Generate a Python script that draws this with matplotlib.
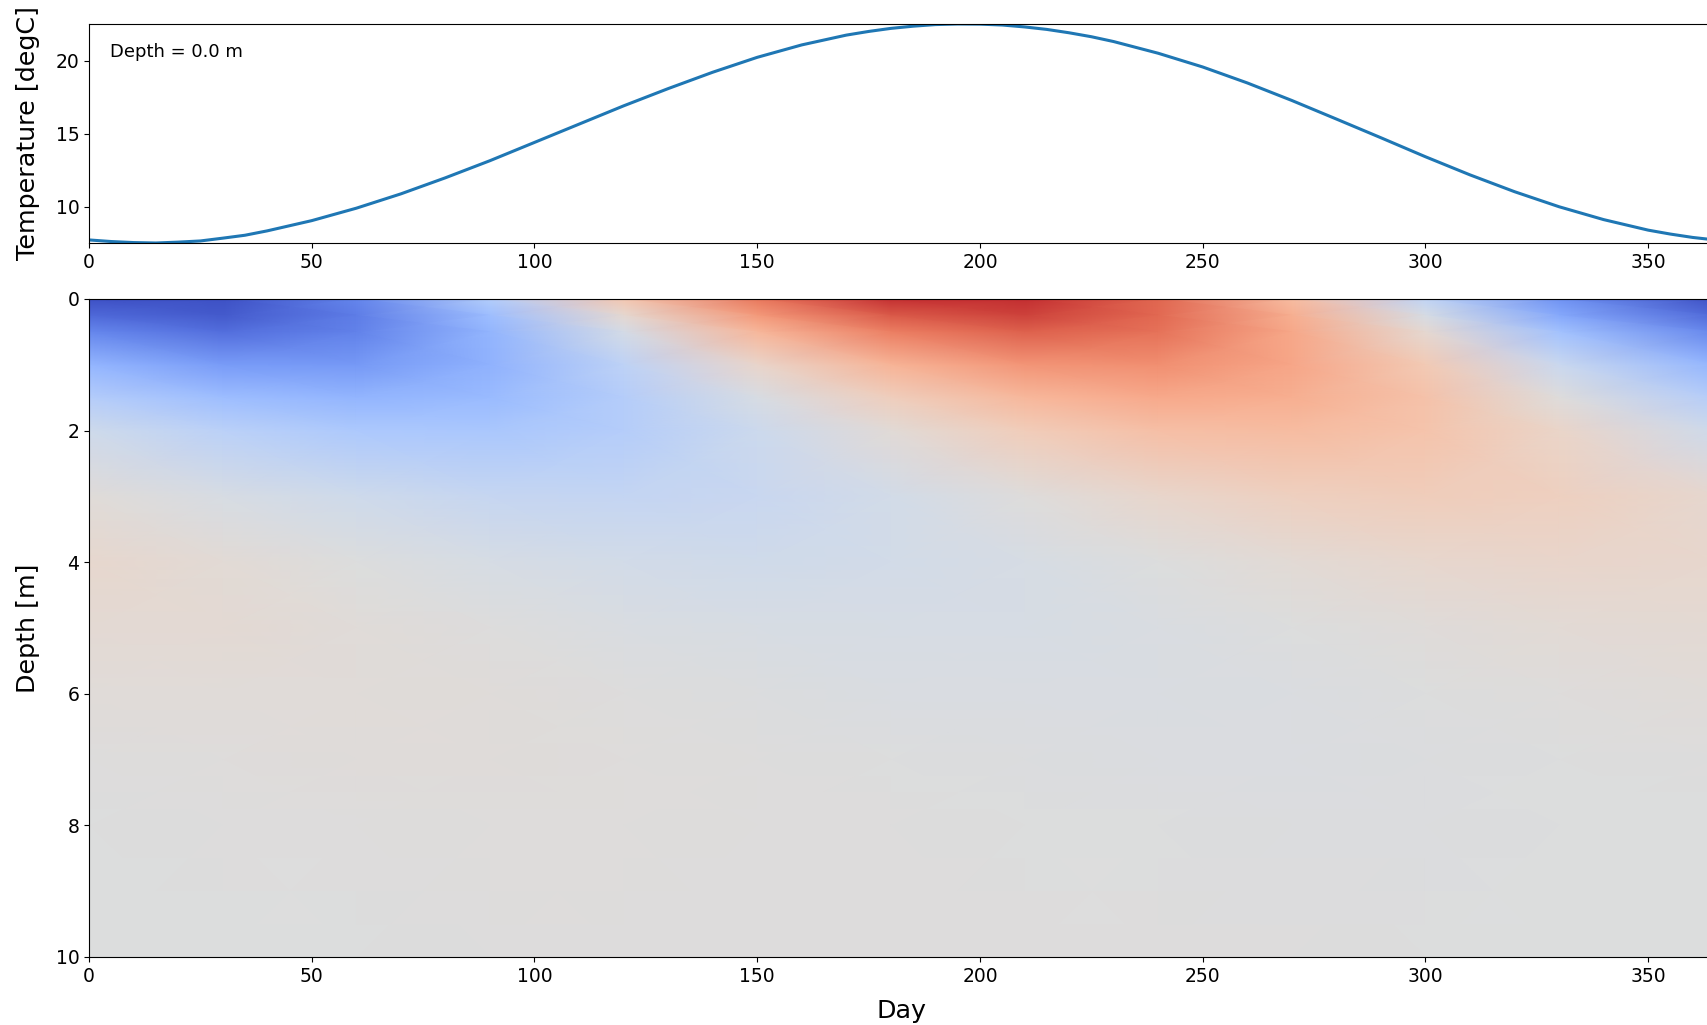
import numpy as np
import matplotlib
matplotlib.use('Agg')
from matplotlib import pyplot as plt

# surface temperature
day_line = [0, 5, 10, 15, 20, 25, 30, 35, 40, 50, 60, 70, 80, 90, 100, 110, 120, 130,
            140, 150, 160, 170, 175, 180, 185, 190, 195, 200, 205, 210, 215, 220, 225,
            230, 240, 250, 260, 270, 280, 290, 300, 310, 320, 330, 340, 350, 355, 360, 365]
temp_surface = [7.73, 7.62, 7.55, 7.52, 7.58, 7.66, 7.85, 8.05, 8.35, 9.05, 9.90, 10.88,
                11.98, 13.15, 14.40, 15.65, 16.90, 18.08, 19.20, 20.22, 21.07, 21.74,
                21.99, 22.20, 22.35, 22.46, 22.50, 22.49, 22.43, 22.30, 22.13, 21.90,
                21.63, 21.30, 20.50, 19.56, 18.47, 17.27, 16.00, 14.72, 13.42, 12.18,
                11.03, 10.00, 9.12, 8.40, 8.13, 7.90, 7.73]

# heat map grid
day_grid = [0, 30, 60, 90, 120, 150, 180, 210, 240, 270, 300, 330, 365]
depth_grid = [0, 0.25, 0.5, 1, 1.5, 2, 3, 4, 5, 6, 7, 8, 10]
temp_grid = [
    [7.73, 7.70, 9.55, 12.90, 16.70, 19.90, 21.80, 21.90, 20.40, 17.32, 13.49, 10.06, 7.73],
    [8.50, 8.00, 9.20, 12.00, 15.50, 18.70, 20.80, 21.40, 20.37, 17.88, 14.63, 11.00, 8.50],
    [9.60, 8.70, 9.40, 11.50, 14.50, 17.55, 19.68, 20.60, 20.06, 18.19, 15.50, 12.20, 9.60],
    [11.60, 10.40, 10.30, 11.40, 13.40, 15.75, 17.69, 18.92, 19.14, 18.27, 16.55, 14.00, 11.60],
    [13.00, 12.00, 11.50, 11.80, 13.00, 14.65, 16.24, 17.50, 18.11, 17.91, 16.95, 15.10, 13.00],
    [14.20, 13.30, 12.60, 12.50, 13.00, 14.09, 15.27, 16.38, 17.13, 17.33, 16.92, 15.80, 14.20],
    [15.20, 14.70, 14.20, 13.82, 13.69, 13.91, 14.41, 15.06, 15.70, 16.16, 16.31, 16.12, 15.54],
    [15.62, 15.35, 14.98, 14.62, 14.36, 14.27, 14.36, 14.63, 14.99, 15.35, 15.62, 15.73, 15.62],
    [15.41, 15.36, 15.22, 15.02, 14.81, 14.66, 14.59, 14.63, 14.77, 14.97, 15.17, 15.33, 15.41],
    [15.19, 15.23, 15.21, 15.13, 15.02, 14.91, 14.82, 14.77, 14.79, 14.86, 14.97, 15.08, 15.19],
    [15.05, 15.10, 15.13, 15.12, 15.08, 15.02, 14.96, 14.90, 14.87, 14.88, 14.91, 14.97, 15.05],
    [14.99, 15.02, 15.05, 15.07, 15.07, 15.05, 15.02, 14.98, 14.95, 14.93, 14.93, 14.95, 14.99],
    [14.98, 14.98, 14.99, 15.00, 15.01, 15.02, 15.02, 15.02, 15.01, 15.00, 14.99, 14.98, 14.98],
]

W, H = 1708, 1025
fig = plt.figure(figsize=(W / 100, H / 100), dpi=100)

left = 89 / W
width = (1715 - 89) / W
ax1 = fig.add_axes([left, 1 - 243 / H, width, 219 / H])
ax2 = fig.add_axes([left, 1 - 957 / H, width, 658 / H])

# top panel: surface temperature
ax1.plot(day_line, temp_surface, color='#1f77b4', lw=2.2)
ax1.set_xlim(0, 365)
ax1.set_ylim(min(temp_surface), max(temp_surface))
ax1.set_yticks([10, 15, 20])
ax1.set_ylabel('Temperature [degC]', size=18.3)
ax1.yaxis.set_label_coords(-0.030, 0.5)
ax1.text(0.013, 0.872, 'Depth = 0.0 m', transform=ax1.transAxes,
         va='center', ha='left', size=13)
ax1.tick_params(axis='both', labelsize=13.5)

# bottom panel: temperature by depth and day
X, Y = np.meshgrid(day_grid, depth_grid)
ax2.pcolormesh(X, Y, np.array(temp_grid), shading='gouraud', cmap='coolwarm',
               vmin=7.5, vmax=22.5)
ax2.set_xlim(0, 365)
ax2.set_ylim(10, 0)
ax2.set_yticks([0, 2, 4, 6, 8, 10])
ax2.set_ylabel('Depth [m]', size=18.3)
ax2.yaxis.set_label_coords(-0.030, 0.5)
ax2.set_xlabel('Day', size=18.3)
ax2.xaxis.set_label_coords(0.5, -0.064)
ax2.tick_params(axis='both', labelsize=13.5)

fig.savefig('out.png', dpi=100)
